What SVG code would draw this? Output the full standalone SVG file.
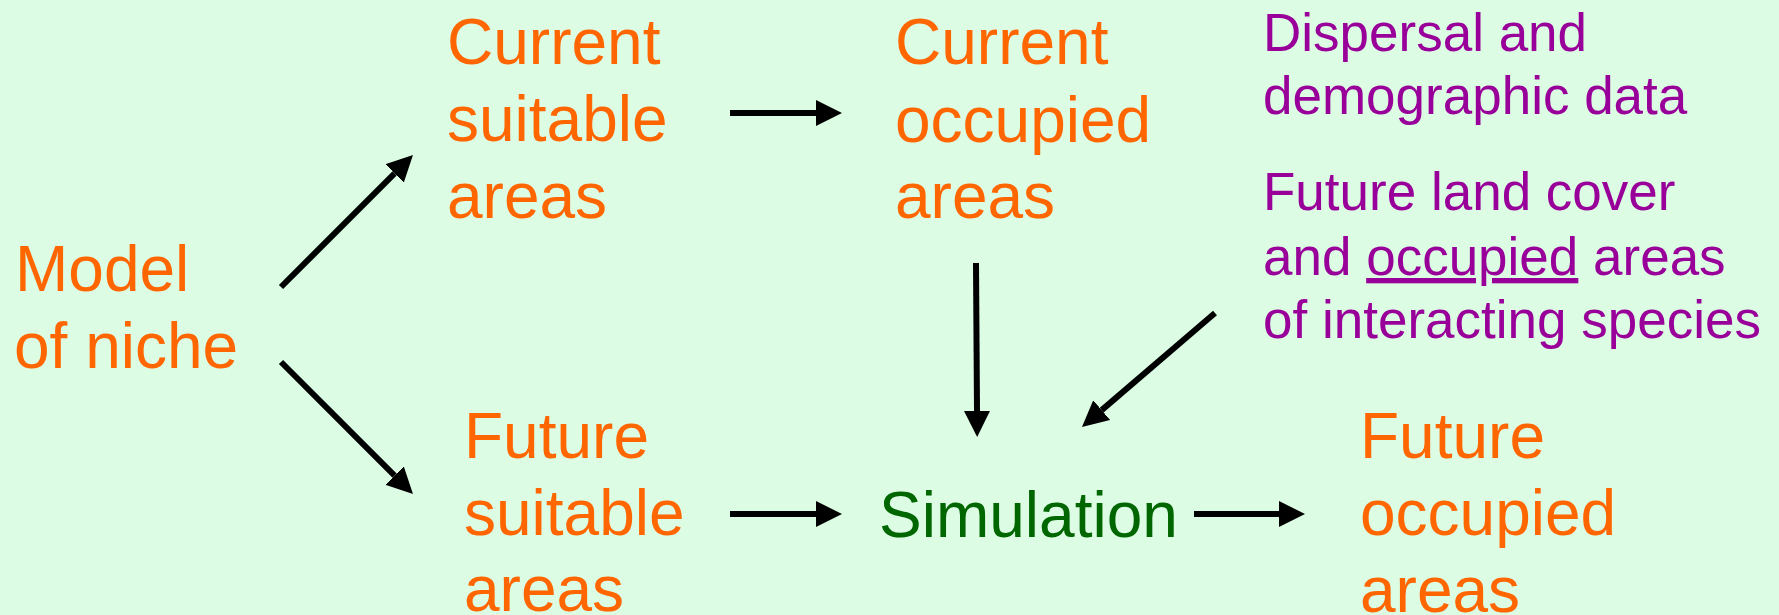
<svg xmlns="http://www.w3.org/2000/svg" width="1779" height="615" viewBox="0 0 1779 615">
  <style>
    text { font-family: "Liberation Sans", Arial, sans-serif; }
    .main { font-size: 64px; fill: #FF6600; }
    .data { font-size: 53px; fill: #990099; }
    .sim { font-size: 64px; fill: #006600; }
    .conn { stroke: #000; stroke-width: 6; fill: none; marker-end: url(#head); }
  </style>
  <defs>
    <marker id="head" markerUnits="userSpaceOnUse" markerWidth="26" markerHeight="26" viewBox="0 0 26 26" refX="0" refY="13" orient="auto">
      <path d="M0,0 L26,13 L0,26 Z" fill="#000"/>
    </marker>
  </defs>

  <rect width="1779" height="615" fill="#DCFCE4"/>

  <g id="model-niche">
    <text class="main" x="15" y="291">Model</text>
    <text class="main" x="14" y="368">of niche</text>
  </g>

  <g id="current-suitable">
    <text class="main" x="447" y="64">Current</text>
    <text class="main" x="447" y="141">suitable</text>
    <text class="main" x="447" y="218">areas</text>
  </g>

  <g id="current-occupied">
    <text class="main" x="895" y="64">Current</text>
    <text class="main" x="895" y="142">occupied</text>
    <text class="main" x="895" y="218">areas</text>
  </g>

  <g id="dispersal-data">
    <text class="data" x="1263" y="51">Dispersal and</text>
    <text class="data" x="1263" y="114">demographic data</text>
  </g>

  <g id="land-cover">
    <text class="data" x="1263" y="210">Future land cover</text>
    <text class="data" x="1263" y="275">and <tspan text-decoration="underline">occupied</tspan> areas</text>
    <text class="data" x="1263" y="338">of interacting species</text>
  </g>

  <g id="future-suitable">
    <text class="main" x="464" y="458">Future</text>
    <text class="main" x="464" y="535">suitable</text>
    <text class="main" x="464" y="611">areas</text>
  </g>

  <g id="simulation">
    <text class="sim" x="879" y="537">Simulation</text>
  </g>

  <g id="future-occupied">
    <text class="main" x="1360" y="458">Future</text>
    <text class="main" x="1360" y="535">occupied</text>
    <text class="main" x="1360" y="612">areas</text>
  </g>

  <g id="connectors">
    <path class="conn" d="M281,287 L394.6,173.4"/>
    <path class="conn" d="M281,362 L394.6,475.6"/>
    <path class="conn" d="M730,113 L816,113"/>
    <path class="conn" d="M730,514 L816,514"/>
    <path class="conn" d="M976,263 L977,411"/>
    <path class="conn" d="M1215,313 L1101.7,410.1"/>
    <path class="conn" d="M1194,514 L1279,514"/>
  </g>
</svg>
